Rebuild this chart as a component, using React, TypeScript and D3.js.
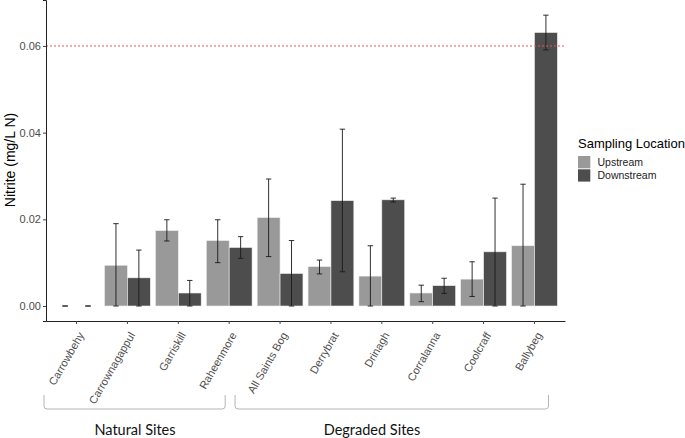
import * as d3 from "d3";
import { useEffect, useRef } from "react";

const sites = [
  "Carrowbehy", "Carrownagappul", "Garriskill", "Raheenmore", "All Saints Bog",
  "Derrybrat", "Drinagh", "Corralanna", "Coolcraff", "Ballybeg",
];
const locations = ["Upstream", "Downstream"];

const upMean = [0, 0.0094, 0.0174, 0.0151, 0.0204, 0.0091, 0.0069, 0.0030, 0.0062, 0.0139];
const upLow = [0, 0, 0.0150, 0.0100, 0.0114, 0.0074, 0, 0.0010, 0.0022, 0];
const upHigh = [0, 0.0190, 0.0199, 0.0199, 0.0293, 0.0106, 0.0139, 0.0048, 0.0102, 0.0281];

const downMean = [0, 0.0065, 0.0030, 0.0135, 0.0075, 0.0243, 0.0245, 0.0047, 0.0125, 0.0631];
const downLow = [0, 0, 0, 0.0110, 0, 0.0079, 0.0240, 0.0029, 0, 0.0591];
const downHigh = [0, 0.0129, 0.0059, 0.0160, 0.0151, 0.0408, 0.0249, 0.0064, 0.0249, 0.0671];

const yTicks = [0, 0.02, 0.04, 0.06];
const threshold = 0.06;

const groupLabels = ["Natural Sites", "Degraded Sites"];
const groupSites = [
  ["Carrowbehy", "Raheenmore"],
  ["All Saints Bog", "Ballybeg"],
];

export default function App() {
  const ref = useRef<SVGSVGElement>(null);

  useEffect(() => {
    const width = 685;
    const height = 438;
    const margin = { top: 0, right: 120, bottom: 117, left: 46 };
    const font = "'Liberation Sans', Arial, sans-serif";

    const svg = d3.select(ref.current);
    svg.selectAll("*").remove();

    const x = d3.scaleBand<string>()
      .domain(sites)
      .range([margin.left, width - margin.right])
      .paddingInner(0.1)
      .paddingOuter(0.15);
    const cx = (s: string) => x(s)! + x.bandwidth() / 2;

    const x1 = d3.scaleBand<string>()
      .domain(locations)
      .range([0, x.bandwidth()]);

    const y = d3.scaleLinear()
      .domain([-0.00346, 0.0706])
      .range([height - margin.bottom, margin.top]);

    const color = d3.scaleOrdinal<string, string>()
      .domain(locations)
      .range(["#999999", "#4d4d4d"]);

    // one row per bar
    const rows = sites.flatMap((s, i) => [
      { site: s, loc: "Upstream", mean: upMean[i], lo: upLow[i], hi: upHigh[i] },
      { site: s, loc: "Downstream", mean: downMean[i], lo: downLow[i], hi: downHigh[i] },
    ]);

    // bars
    svg.append("g")
      .selectAll("rect")
      .data(rows.filter(d => d.mean > 0))
      .join("rect")
      .attr("x", d => x(d.site)! + x1(d.loc)!)
      .attr("width", x1.bandwidth())
      .attr("y", d => y(d.mean))
      .attr("height", d => y(0) - y(d.mean))
      .attr("fill", d => color(d.loc))
      .attr("stroke", "#eeeeee")
      .attr("stroke-width", 0.6);

    // error bars
    const cap = 2.7;
    const eb = svg.append("g")
      .attr("stroke", "#1a1a1a")
      .attr("stroke-width", 0.9)
      .selectAll("g")
      .data(rows)
      .join("g")
      .attr("transform", d => `translate(${x(d.site)! + x1(d.loc)! + x1.bandwidth() / 2},0)`);
    eb.append("line")
      .attr("y1", d => y(d.lo))
      .attr("y2", d => y(d.hi));
    eb.append("line")
      .attr("x1", -cap).attr("x2", cap)
      .attr("y1", d => y(d.hi)).attr("y2", d => y(d.hi));
    eb.append("line")
      .attr("x1", -cap).attr("x2", cap)
      .attr("y1", d => y(d.lo)).attr("y2", d => y(d.lo));

    // threshold line
    svg.append("line")
      .attr("x1", margin.left)
      .attr("x2", width - margin.right)
      .attr("y1", y(threshold))
      .attr("y2", y(threshold))
      .attr("stroke", "#ee5555")
      .attr("stroke-width", 1)
      .attr("stroke-dasharray", "2,2");

    // axes
    const yAxis = d3.axisLeft(y)
      .tickValues(yTicks)
      .tickFormat(d3.format(".2f"))
      .tickSize(3)
      .tickPadding(2);

    const gy = svg.append("g")
      .attr("transform", `translate(${margin.left},0)`)
      .call(yAxis);
    gy.select(".domain").attr("stroke", "#222").attr("stroke-width", 1);
    gy.selectAll(".tick line").attr("stroke", "#444");
    gy.selectAll(".tick text")
      .attr("fill", "#4d4d4d")
      .style("font-family", font)
      .style("font-size", "11px");

    const xAxis = d3.axisBottom(x).tickSize(3).tickSizeOuter(0).tickFormat(() => "");
    const gx = svg.append("g")
      .attr("transform", `translate(0,${height - margin.bottom})`)
      .call(xAxis);
    gx.select(".domain").attr("stroke", "#222").attr("stroke-width", 1);
    gx.selectAll(".tick line").attr("stroke", "#444");

    // rotated site labels
    svg.append("g")
      .selectAll("text")
      .data(sites)
      .join("text")
      .attr("transform", d => `translate(${cx(d) + 8},${height - margin.bottom + 14}) rotate(-60)`)
      .attr("text-anchor", "end")
      .attr("fill", "#4d4d4d")
      .style("font-family", font)
      .style("font-size", "11px")
      .text(d => d);

    // y title
    svg.append("text")
      .attr("transform", `translate(14.5,160) rotate(-90)`)
      .attr("text-anchor", "middle")
      .attr("fill", "#000")
      .style("font-family", font)
      .style("font-size", "14px")
      .text("Nitrite (mg/L N)");

    // legend
    const lg = svg.append("g").attr("transform", "translate(578,0)");
    lg.append("text")
      .attr("x", 0)
      .attr("y", 148)
      .style("font-family", font)
      .style("font-size", "13px")
      .text("Sampling Location");
    locations.forEach((loc, i) => {
      lg.append("rect")
        .attr("x", 0)
        .attr("y", 156 + i * 13.3)
        .attr("width", 12.3)
        .attr("height", 12.3)
        .attr("fill", color(loc));
      lg.append("text")
        .attr("x", 19.5)
        .attr("y", 162.3 + i * 13.3)
        .attr("dy", "0.35em")
        .attr("fill", "#222")
        .style("font-family", font)
        .style("font-size", "10.5px")
        .text(loc);
    });

    // group brackets under the labels
    const bTop = 395;
    const bBot = 409;
    const r = 3;
    const bracketX = [
      [margin.left - 2, cx(groupSites[0][1]) - 4],
      [cx(groupSites[1][0]) - 45, cx(groupSites[1][1]) + 14],
    ];
    const labelX = [135, 372];
    groupLabels.forEach((label, i) => {
      const [xa, xb] = bracketX[i];
      const p = d3.path();
      p.moveTo(xa, bTop);
      p.lineTo(xa, bBot - r);
      p.quadraticCurveTo(xa, bBot, xa + r, bBot);
      p.lineTo(xb - r, bBot);
      p.quadraticCurveTo(xb, bBot, xb, bBot - r);
      p.lineTo(xb, bTop);
      svg.append("path")
        .attr("d", p.toString())
        .attr("fill", "none")
        .attr("stroke", "#b5b5b5")
        .attr("stroke-width", 1);
      svg.append("text")
        .attr("x", labelX[i])
        .attr("y", 435)
        .attr("text-anchor", "middle")
        .style("font-family", "Lato, 'Liberation Sans', sans-serif")
        .style("font-size", "14.5px")
        .attr("fill", "#111")
        .text(label);
    });
  }, []);

  return (
    <svg
      ref={ref}
      width={685}
      height={438}
      style={{ position: "absolute", left: 0, top: 0, background: "#fff" }}
    />
  );
}
